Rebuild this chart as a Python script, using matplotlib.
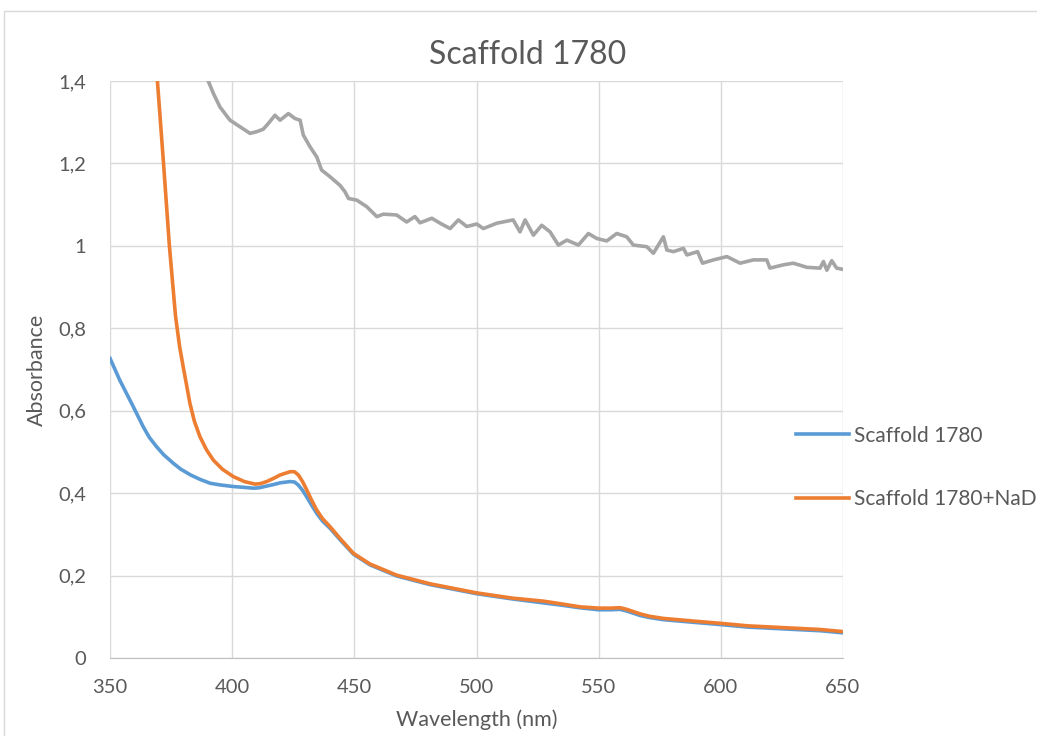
import matplotlib.pyplot as plt
from matplotlib.patches import Rectangle

plt.rcParams['font.family'] = ['Lato', 'DejaVu Sans']

# data
wl_gray = [380, 385, 390.2, 392.3, 395, 399.1, 403.2, 407.3, 410, 412.7, 414.8, 417.5, 419.6,
           423, 425.7, 427.8, 429.1, 431.9, 434.6, 436.6, 440, 444.1, 446.2, 447.6, 451, 455.1,
           459.2, 461.9, 467.3, 471.4, 474.8, 476.9, 481.7, 485.1, 489.2, 492.6, 496, 500.1,
           502.8, 508.3, 515, 517.8, 519.9, 523.3, 526.7, 530.1, 533.5, 537, 541.7, 545.8,
           549.2, 553.3, 557.4, 561.5, 564.2, 569.7, 572.4, 576.5, 577.9, 580.6, 584.7, 586.1,
           590.5, 592.5, 597, 602.5, 607.9, 613.3, 618.8, 620.1, 625.6, 629.7, 635.2, 640.6,
           642, 643.4, 645.4, 647.4, 650]
abs_gray = [1.62, 1.50, 1.40, 1.370, 1.337, 1.305, 1.289, 1.273, 1.277, 1.283, 1.297, 1.317, 1.305,
            1.321, 1.309, 1.305, 1.269, 1.240, 1.216, 1.184, 1.168, 1.147, 1.131, 1.115, 1.111, 1.095,
            1.071, 1.077, 1.075, 1.058, 1.071, 1.056, 1.067, 1.055, 1.042, 1.063, 1.047, 1.053,
            1.042, 1.055, 1.063, 1.034, 1.063, 1.026, 1.050, 1.034, 1.002, 1.014, 1.002, 1.030,
            1.018, 1.012, 1.030, 1.022, 1.002, 0.998, 0.982, 1.022, 0.990, 0.986, 0.994, 0.978,
            0.986, 0.958, 0.966, 0.974, 0.958, 0.966, 0.966, 0.946, 0.954, 0.958, 0.948, 0.946,
            0.962, 0.941, 0.964, 0.946, 0.943]

wl_blue = [350, 354, 359.5, 363.6, 366, 369, 372, 376, 379, 383, 387, 391, 395, 400.5, 405, 408.7,
           411, 414, 417, 419.6, 423.7, 425.5, 427, 428.8, 430.5, 432.5, 434.6, 437, 440, 444, 449.6,
           456.4, 467.3, 481, 500, 515, 527, 535, 542, 550, 555, 558.7, 561.5, 564, 567, 571,
           576.5, 588, 600, 611, 621, 631, 641, 650]
abs_blue = [0.727, 0.674, 0.610, 0.561, 0.536, 0.513, 0.493, 0.472, 0.458, 0.444, 0.433, 0.424,
            0.420, 0.416, 0.414, 0.412, 0.413, 0.417, 0.421, 0.425, 0.428, 0.427, 0.420, 0.407,
            0.391, 0.371, 0.351, 0.332, 0.315, 0.288, 0.252, 0.226, 0.199, 0.178, 0.156, 0.143,
            0.134, 0.128, 0.122, 0.117, 0.117, 0.118, 0.114, 0.109, 0.103, 0.098, 0.093, 0.087,
            0.081, 0.075, 0.072, 0.069, 0.066, 0.061]

wl_orange = [350, 360, 365, 369.4, 371.9, 374.3, 376.8, 378.5, 380, 382.7, 384.5, 386.8, 389.5,
             392.3, 396, 400.5, 405, 409.3, 411.5, 414.1, 417, 419.6, 423.7, 425.5, 427.1, 428.8,
             430.5, 432.5, 434.6, 437, 440, 444, 449.6, 456.4, 467.3, 481, 500, 515, 527.3, 535,
             542.4, 550, 555, 558.7, 561.5, 564, 567, 571, 576.5, 588, 600, 611, 621, 631, 641, 650]
abs_orange = [3.2, 2.2, 1.75, 1.40, 1.200, 1.000, 0.830, 0.755, 0.705, 0.618, 0.575, 0.537, 0.505,
              0.480, 0.458, 0.440, 0.428, 0.422, 0.423, 0.428, 0.436, 0.444, 0.452, 0.452, 0.444,
              0.428, 0.408, 0.383, 0.359, 0.338, 0.319, 0.291, 0.254, 0.228, 0.201, 0.180, 0.158,
              0.145, 0.138, 0.131, 0.124, 0.121, 0.121, 0.122, 0.118, 0.113, 0.107, 0.101, 0.096,
              0.090, 0.084, 0.078, 0.075, 0.072, 0.069, 0.064]

xticks = [350, 400, 450, 500, 550, 600, 650]
yticks = [0, 0.2, 0.4, 0.6, 0.8, 1.0, 1.2, 1.4]
ytick_labels = ["0", "0,2", "0,4", "0,6", "0,8", "1", "1,2", "1,4"]

fig = plt.figure(figsize=(10.37, 7.36), dpi=100)
ax = fig.add_axes([0.1061, 0.106, 0.7068, 0.7839])

# chart border (cut off at right and bottom)
fig.patches.append(Rectangle((4 / 1037, -0.1), 1.2, 1.1 - 11 / 736,
                             transform=fig.transFigure, fill=False,
                             edgecolor='#d9d9d9', linewidth=1))

ax.plot(wl_blue, abs_blue, color='#5B9BD5', lw=2.6, label='Scaffold 1780', zorder=3,
        solid_joinstyle='round')
ax.plot(wl_orange, abs_orange, color='#ED7D31', lw=2.6, label='Scaffold 1780+NaD', zorder=4,
        solid_joinstyle='round')
ax.plot(wl_gray, abs_gray, color='#A5A5A5', lw=2.6, label='_nolegend_', zorder=2,
        solid_joinstyle='round')

ax.set_xlim(350, 650)
ax.set_ylim(0, 1.4)
ax.set_xticks(xticks)
ax.set_yticks(yticks)
ax.set_yticklabels(ytick_labels)
ax.grid(True, color='#d9d9d9', linewidth=1)
ax.set_axisbelow(True)
for s in ['top', 'right', 'left']:
    ax.spines[s].set_visible(False)
ax.spines['bottom'].set_color('#bfbfbf')
ax.tick_params(axis='both', length=0, labelsize=14.5, colors='#595959')
ax.tick_params(axis='y', pad=17)
ax.tick_params(axis='x', pad=15)

ax.set_xlabel('Wavelength (nm)', fontsize=15.5, color='#595959', labelpad=10)
ax.set_ylabel('Absorbance', fontsize=15.5, color='#595959', labelpad=8)
fig.text(528 / 1037, 1 - 55 / 736, 'Scaffold 1780', ha='center', va='center',
         fontsize=23, color='#595959')

leg = ax.legend(loc='center left', bbox_to_anchor=(0.936, 0.33), frameon=False,
                fontsize=15, handlelength=2.55, handletextpad=0.25, labelspacing=2.1,
                borderaxespad=0, borderpad=0)
for t in leg.get_texts():
    t.set_color('#595959')

fig.savefig('out.png', dpi=100)
